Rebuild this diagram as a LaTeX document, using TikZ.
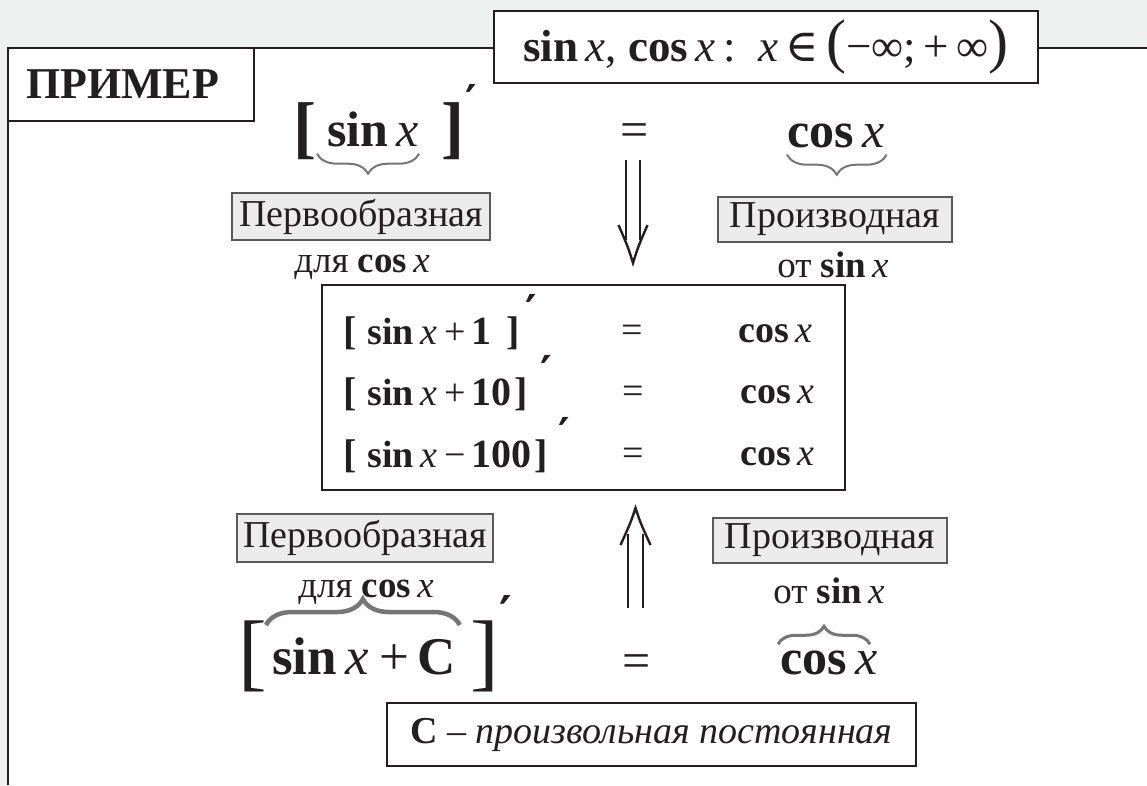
\documentclass[tikz,border=0pt]{standalone}
\usepackage{fontspec}
\setmainfont{Liberation Serif}
\newfontfamily\symf{DejaVu Serif}
\usepackage{xcolor}
\usepackage{tikz}
\usetikzlibrary{calc, decorations.pathreplacing}

\definecolor{bggray}{RGB}{239,240,240}
\definecolor{ink}{RGB}{35,31,32}
\definecolor{bracegray}{RGB}{118,118,118}
\definecolor{tagfill}{RGB}{236,236,236}
\definecolor{tagline}{RGB}{90,90,90}

\newcommand{\fsz}[1]{\fontsize{#1}{#1}\selectfont}
\newcommand{\sinx}{\textbf{sin}\,\textit{x}}
\newcommand{\cosx}{\textbf{cos}\,\textit{x}}
\newcommand{\lbr}{{\fsz{40}\bfseries[}}
\newcommand{\rbr}{{\fsz{40}\bfseries]}}
\newcommand{\num}[1]{{\fsz{40}\bfseries #1}}

\begin{document}
\begin{tikzpicture}[x=1pt, y=-1pt,
    every node/.style={text=ink, inner sep=0pt},
    frame/.style={draw=ink, line width=1.4pt, fill=white},
    tag/.style={draw=tagline, line width=1.2pt, fill=tagfill, font=\fsz{38}},
    sub/.style={font=\fsz{37}, anchor=base},
    big/.style={font=\fsz{50}, anchor=base west},
    mid/.style={font=\fsz{38}, anchor=base west},
    prm/.style={font=\fsz{44}\symf\bfseries},
    brc/.style={draw=bracegray, line width=2pt, decorate,
                decoration={brace, amplitude=20pt}},
    dbl/.style={draw=ink, line width=2.4pt}]
  \useasboundingbox (0,0) rectangle (1147,785);
  \fill[bggray] (0,0) rectangle (1147,785);
  \fill[white] (8,48) rectangle (1147,785);
  \draw[ink, line width=2pt] (8,785) -- (8,48) -- (1147,48);

  % headers
  \node[frame, minimum width=246pt, minimum height=73pt, text width=210pt,
        inner xsep=18pt, align=left, font=\fsz{44}\bfseries] (ex) at (131,84.5) {ПРИМЕР};
  \node[frame, minimum width=544pt, minimum height=72pt, font=\fsz{45}] (dom) at (766,47)
    {\sinx,\ \cosx\,:\ \ \textit{x}\,{\symf ∈}\,{\fsz{60}(}−∞;\,+\,∞{\fsz{60})}};

  % top row
  \node[font=\fsz{69}\bfseries, anchor=base west] (lb1) at (293,150) {[};
  \node[big] (s1) at (327,146) {\sinx};
  \node[font=\fsz{69}\bfseries, anchor=base west] (rb1) at (441,150) {]};
  \node[prm] (p1) at (471,100) {′};
  \node[font=\fsz{50}, anchor=base] (e1) at (635,146) {=};
  \node[big] (c1) at (787,147) {\cosx};
  \draw[brc] ($(s1.south east)+(0,7)$) -- ($(s1.south west)+(-10,7)$);
  \draw[brc] ($(c1.south east)+(2,7)$) -- ($(c1.south west)+(0,7)$);

  \node[tag, minimum width=258pt, minimum height=47pt] (pv1) at (361,216.5) {Первообразная};
  \node[sub] (d1) at (362,272) {для \cosx};
  \node[tag, minimum width=234pt, minimum height=45pt] (pr1) at (835,219.5) {Производная};
  \node[sub] (o1) at (833,277) {от \sinx};

  % down arrow
  \coordinate (dntail) at (633,160);
  \coordinate (dnend) at (633,240);
  \coordinate (dntip) at (633,263);
  \draw[dbl] ([xshift=-7pt]dntail) -- ([xshift=-7pt]dnend);
  \draw[dbl] ([xshift=7pt]dntail) -- ([xshift=7pt]dnend);
  \draw[dbl] ($(dntip)+(-14.5,-38)$) .. controls ($(dntip)+(-5,-16)$) .. (dntip)
             .. controls ($(dntip)+(5,-16)$) .. ($(dntip)+(14.5,-38)$);

  % examples
  \node[frame, minimum width=523pt, minimum height=205pt] (set) at (583.5,387.5) {};
  \node[mid] (x1) at (343,344) {\lbr\hspace{11pt}\sinx\hspace{7pt}+\hspace{6pt}\num{1}\hspace{15pt}\rbr};
  \node[mid] (x2) at (343,405) {\lbr\hspace{11pt}\sinx\hspace{7pt}+\hspace{6pt}\num{10}\hspace{3pt}\rbr};
  \node[mid] (x3) at (343,467) {\lbr\hspace{11pt}\sinx\hspace{7pt}−\hspace{6pt}\num{100}\hspace{3pt}\rbr};
  \node[prm] (q1) at (531,310) {′};
  \node[prm] (q2) at (546,371) {′};
  \node[prm] (q3) at (564,433) {′};
  \node[mid, anchor=base] (f1) at (632,342) {=};
  \node[mid, anchor=base] (f2) at (633,403) {=};
  \node[mid, anchor=base] (f3) at (633,465) {=};
  \node[mid] (g1) at (738,342) {\cosx};
  \node[mid] (g2) at (740,403) {\cosx};
  \node[mid] (g3) at (740,465) {\cosx};

  % up arrow
  \coordinate (uptail) at (635.5,608);
  \coordinate (upend) at (635.5,534);
  \coordinate (uptip) at (635.5,508);
  \draw[dbl] ([xshift=-7.5pt]uptail) -- ([xshift=-7.5pt]upend);
  \draw[dbl] ([xshift=7.5pt]uptail) -- ([xshift=7.5pt]upend);
  \draw[dbl] ($(uptip)+(-15,37)$) .. controls ($(uptip)+(-5,15)$) .. (uptip)
             .. controls ($(uptip)+(5,15)$) .. ($(uptip)+(15,37)$);

  \node[tag, minimum width=256pt, minimum height=48pt] (pv2) at (365,538) {Первообразная};
  \node[sub] (d2) at (366,597) {для \cosx};
  \node[tag, minimum width=234pt, minimum height=45pt] (pr2) at (830,540.5) {Производная};
  \node[sub] (o2) at (829,603) {от \sinx};

  % bottom row
  \node[font=\fsz{86}, anchor=base west] (lb3) at (238,680) {[};
  \node[font=\fsz{53}, anchor=base west] (s3) at (272,674) {\sinx\hspace{10pt}+\hspace{8pt}\textbf{C}};
  \node[font=\fsz{86}, anchor=base west] (rb3) at (470,680) {]};
  \node[prm, font=\fsz{48}\symf\bfseries] (p3) at (506,613) {′};
  \node[font=\fsz{50}] (e3) at (637,666) {=};
  \node[big] (c3) at (780,674) {\cosx};
  \draw[brc, line width=4.5pt, decoration={brace, amplitude=26pt}]
    ($(s3.north west)+(-6,-12)$) -- ($(s3.north east)+(4,-12)$);
  \draw[brc, line width=3pt, decoration={brace, amplitude=18pt}]
    ($(c3.north west)+(-2,-6)$) -- ($(c3.north west)+(90,-6)$);

  \node[frame, minimum width=529pt, minimum height=63pt, font=\fsz{38}] (cn) at (651.5,734.5)
    {\textbf{C} – \textit{произвольная постоянная}};
\end{tikzpicture}
\end{document}
